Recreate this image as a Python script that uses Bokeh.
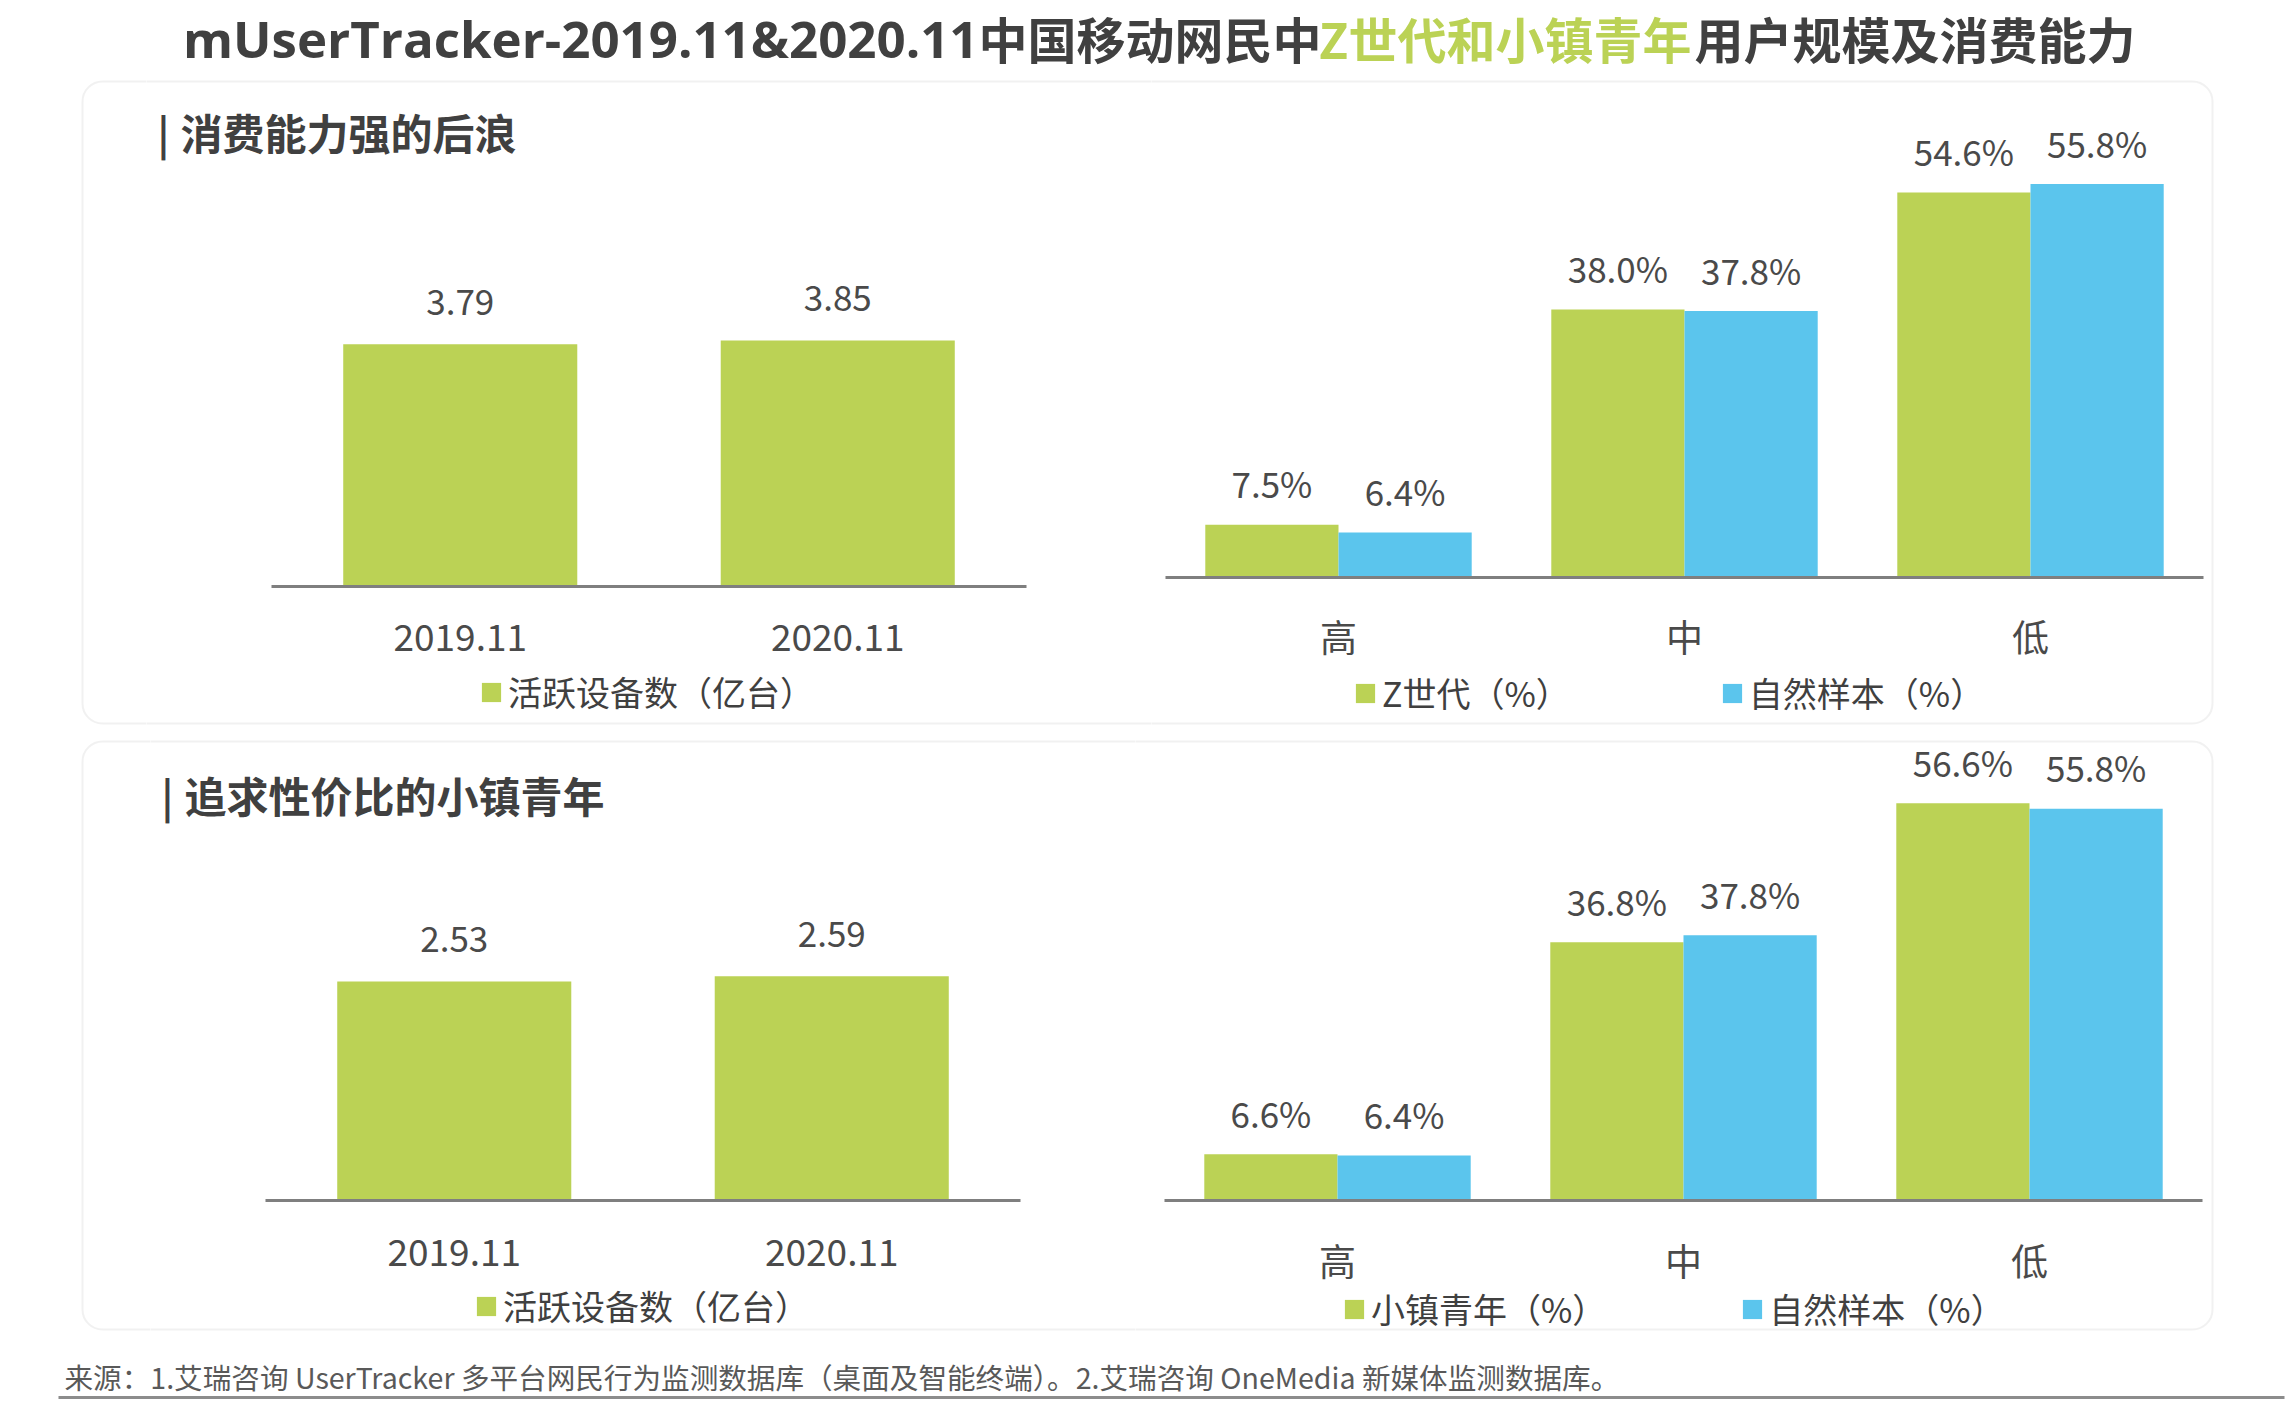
from bokeh.plotting import figure
from bokeh.models import (ColumnDataSource, FactorRange, Range1d, LabelSet, Label,
                          BoxAnnotation, Legend, LegendItem)
from bokeh.transform import dodge
from bokeh.layouts import column, row
from bokeh.embed import file_html
from bokeh.resources import INLINE
from bokeh.core.properties import value

# ---------------- data ----------------
periods = ["2019.11", "2020.11"]
z_devices = [3.79, 3.85]          # 活跃设备数（亿台）- Z世代
town_devices = [2.53, 2.59]       # 活跃设备数（亿台）- 小镇青年
levels = ["高", "中", "低"]
z_gen_pct = [7.5, 38.0, 54.6]
natural_pct_1 = [6.4, 37.8, 55.8]
town_pct = [6.6, 36.8, 56.6]
natural_pct_2 = [6.4, 37.8, 55.8]

title_parts = ["mUserTracker-2019.11&2020.11", "中国移动网民中", "Z世代和小镇青年", "用户规模及消费能力"]
header_1 = "消费能力强的后浪"
header_2 = "追求性价比的小镇青年"
device_legend = "活跃设备数（亿台）"
z_legend = "Z世代（%）"
town_legend = "小镇青年（%）"
natural_legend = "自然样本（%）"
footer = "来源：1.艾瑞咨询 UserTracker 多平台网民行为监测数据库（桌面及智能终端）。2.艾瑞咨询 OneMedia 新媒体监测数据库。"

# ---------------- style ----------------
GREEN = "#BBD255"
BLUE = "#5BC5ED"
DARK = "#404040"
TXT = "#4A4A4A"
AXIS = "#7F7F7F"
BORDER = "#D0D0D0"
CJK = "Noto Sans CJK SC"
PAGE_W = 2296


def base_fig(width, height, x_range, y_range):
    p = figure(width=width, height=height, x_range=x_range, y_range=y_range,
               output_backend="svg", toolbar_location=None,
               x_axis_location=None, y_axis_location=None, min_border=0,
               min_border_left=0, min_border_right=0, min_border_top=0, min_border_bottom=0,
               outline_line_color=None, background_fill_color=None, border_fill_color="white")
    p.grid.visible = False
    return p


def blank(width, height):
    return base_fig(width, height, Range1d(0, 1), Range1d(0, 1))


def panel_box(p, left, right, top, bottom, radius):
    p.add_layout(BoxAnnotation(left=left, right=right, top=top, bottom=bottom,
                               left_units="screen", right_units="screen",
                               top_units="screen", bottom_units="screen",
                               fill_alpha=0, line_color=BORDER, line_width=2,
                               border_radius=radius))


def value_labels(p, src, x, y, text, offset, size="35px"):
    p.add_layout(LabelSet(x=x, y=y, text=text, source=src, text_align="center",
                          text_baseline="middle", y_offset=offset, text_font=value(CJK),
                          text_font_size=value(size), text_color=TXT))


def base_axis(p, cats, tick_offset):
    # baseline spanning the whole factor range + category tick labels under it
    p.segment(x0=[0], y0=[0], x1=[len(cats)], y1=[0], line_color=AXIS, line_width=3)
    src = ColumnDataSource(dict(c=cats, z=[0] * len(cats)))
    value_labels(p, src, "c", "z", "c", -tick_offset, "37px")


def header(p, x, y, text):
    p.add_layout(Label(x=x, y=y, x_units="screen", y_units="screen", text="|",
                       text_font=CJK, text_font_size="40px", text_font_style="bold",
                       text_color=DARK, text_baseline="middle"))
    p.add_layout(Label(x=x + 23, y=y, x_units="screen", y_units="screen", text=text,
                       text_font=CJK, text_font_size="42px", text_font_style="bold",
                       text_color=DARK, text_baseline="middle"))


def legend(p, items, loc, spacing=0):
    lg = Legend(items=[LegendItem(label=l, renderers=[r]) for l, r in items],
                location=loc, orientation="horizontal", glyph_width=24, glyph_height=24,
                label_standoff=5, padding=0, margin=0, spacing=spacing,
                border_line_color=None, background_fill_alpha=0,
                label_text_font=CJK, label_text_font_size="34px", label_text_color=DARK)
    p.add_layout(lg)


def chart_ranges(cats, fig_w, axis_w, fig_h, above, ppu):
    # frame == whole figure; factor span occupies axis_w px centred in fig_w
    xr = FactorRange(*cats, range_padding=(fig_w - axis_w) / axis_w,
                     range_padding_units="percent")
    below = fig_h - above
    yr = Range1d(-below / ppu, above / ppu)
    return xr, yr


def device_chart(fig_w, fig_h, above, ppu, vals, hdr, box, leg_loc, tick_off):
    xr, yr = chart_ranges(periods, fig_w, 755, fig_h, above, ppu)
    p = base_fig(fig_w, fig_h, xr, yr)
    src = ColumnDataSource(dict(period=periods, v=vals, lbl=[f"{v:.2f}" for v in vals]))
    r = p.vbar(x="period", top="v", width=0.62, source=src, fill_color=GREEN, line_color=None)
    base_axis(p, periods, tick_off)
    value_labels(p, src, "period", "v", "lbl", 42)
    panel_box(p, -50, fig_w + 50, box[0], box[1], 0)
    header(p, 11, box[2], hdr)
    legend(p, [(device_legend, r)], leg_loc)
    return p


def pct_chart(fig_w, fig_h, above, ppu, a, b, a_name, box, leg_loc, spacing, tick_off):
    xr, yr = chart_ranges(levels, fig_w, 1038, fig_h, above, ppu)
    p = base_fig(fig_w, fig_h, xr, yr)
    src = ColumnDataSource(dict(level=levels, a=a, b=b,
                                al=[f"{v:.1f}%" for v in a], bl=[f"{v:.1f}%" for v in b]))
    xa = dodge("level", -0.1925, range=p.x_range)
    xb = dodge("level", 0.1925, range=p.x_range)
    ra = p.vbar(x=xa, top="a", width=0.385, source=src, fill_color=GREEN, line_color=None)
    rb = p.vbar(x=xb, top="b", width=0.385, source=src, fill_color=BLUE, line_color=None)
    base_axis(p, levels, tick_off)
    value_labels(p, src, xa, "a", "al", 42)
    value_labels(p, src, xb, "b", "bl", 42)
    panel_box(p, -50, box[0], box[1], box[2], (0, 20, 20, 0))
    legend(p, [(a_name, ra), (natural_legend, rb)], leg_loc, spacing)
    return p


# ---------------- title ----------------
t = blank(PAGE_W, 76)
t.add_layout(Label(x=978, y=39, x_units="screen", y_units="screen", text=title_parts[0],
                   text_font="Open Sans", text_font_size="51px", text_font_style="bold",
                   text_color=DARK, text_align="right", text_baseline="middle"))
for xx, txt, col in [(978, title_parts[1], DARK), (1318, title_parts[2], GREEN), (1694, title_parts[3], DARK)]:
    t.add_layout(Label(x=xx, y=39, x_units="screen", y_units="screen", text=txt,
                       text_font=CJK, text_font_size="49px", text_font_style="bold",
                       text_color=col, text_align="left", text_baseline="middle"))

# ---------------- row 1 ----------------
H1 = 656
s1 = blank(146, H1)
panel_box(s1, 82, 400, 651, 9, (20, 0, 0, 20))
l1 = device_chart(1005, H1, 510, 63.9, z_devices, header_1, (651, 9, 601), (333, 16), 51)
r1 = pct_chart(1066, H1, 501, 7.05, z_gen_pct, natural_pct_1, z_legend,
               (2212 - 1151, 651, 9), (202, 15), 150, 58)
e1 = blank(PAGE_W - 146 - 1005 - 1066, H1)

# ---------------- row 2 ----------------
H2 = 608
s2 = blank(150, H2)
panel_box(s2, 82, 400, 599, 11, (20, 0, 0, 20))
l2 = device_chart(985, H2, 468, 86.6, town_devices, header_2, (599, 11, 546), (324, 10), 52)
r2 = pct_chart(1096, H2, 468, 7.02, town_pct, natural_pct_2, town_legend,
               (2212 - 1135, 599, 11), (207, 7), 134, 59)
e2 = blank(PAGE_W - 150 - 985 - 1096, H2)

# ---------------- footer ----------------
f = blank(PAGE_W, 72)
f.add_layout(Label(x=64, y=36, x_units="screen", y_units="screen", text=footer,
                   text_font=CJK, text_font_size="28.6px", text_color="#595959",
                   text_baseline="middle"))
f.add_layout(BoxAnnotation(left=58, right=2284, bottom=13.5, top=16.5, left_units="screen",
                           right_units="screen", top_units="screen", bottom_units="screen",
                           fill_color="#8C8C8C", fill_alpha=1, line_color=None))

layout = column(t, row(s1, l1, r1, e1), row(s2, l2, r2, e2), f)
open("out.html", "w").write(file_html(layout, INLINE))
